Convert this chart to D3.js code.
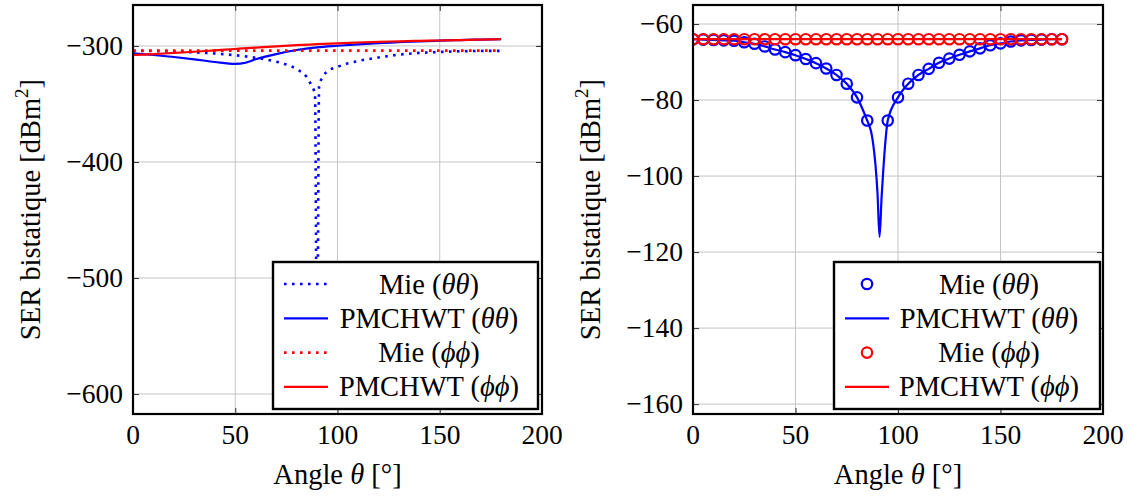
<!DOCTYPE html>
<html><head><meta charset="utf-8">
<script src="https://cdn.jsdelivr.net/npm/d3@7"></script>
<style>body{margin:0;background:#fff}svg{display:block}text{font-family:"Liberation Serif","DejaVu Serif",serif;fill:#000}</style>
</head><body><svg id="c" width="1147" height="498"></svg>
<script>
// ---- data ----
const xTicks = [0, 50, 100, 150, 200];
const leftYTicks = [-300, -400, -500, -600];
const rightYTicks = [-60, -80, -100, -120, -140, -160];

// Left panel
const leftMieThetaAngles = [0,10,20,30,40,50,60,70,75,80,85,87,89,90,91,93,95,100,110,120,130,140,150,160,170,180];
const leftMieThetaValues = [-304.2,-304.4,-304.8,-305.5,-306.5,-308,-310.2,-313.5,-316,-320,-327,-333,-342,-585,-335,-326,-322,-318,-313,-310,-307.5,-306,-305.2,-304.6,-304.3,-304.2];
const leftPmThetaAngles = [0,10,20,30,40,50,55,60,70,80,90,100,110,120,130,140,150,160,170,180];
const leftPmThetaValues = [-306.3,-307.8,-309.5,-311.5,-313.8,-315.5,-314.5,-311.5,-307,-303.5,-301.2,-299.8,-298.6,-297.6,-296.8,-296,-295.4,-294.9,-294.5,-294.2];
const leftMiePhiAngles = [0,30,60,90,120,150,180];
const leftMiePhiValues = [-304,-304,-304,-304,-304,-304,-304];
const leftPmPhiAngles = [0,10,20,30,40,50,60,70,80,90,100,110,120,130,140,150,160,170,180];
const leftPmPhiValues = [-307.8,-307,-306,-305,-303.8,-302.6,-301.4,-300.3,-299.3,-298.5,-297.7,-297,-296.4,-296,-295.6,-295.3,-294.9,-294.5,-294.2];

// Right panel
const rightMieThetaAngles = [0,5,10,15,20,25,30,35,40,45,50,55,60,65,70,75,80,85,95,100,105,110,115,120,125,130,135,140,145,150,155,160,165,170,175,180];
const rightMieThetaValues = [-64,-64.1,-64.2,-64.3,-64.4,-64.8,-65.2,-65.9,-66.7,-67.4,-68.2,-69.2,-70.3,-71.7,-73.4,-75.7,-79.3,-85.4,-85.4,-79.3,-75.7,-73.4,-71.8,-70.2,-69.1,-68.1,-67.2,-66.4,-65.6,-65.1,-64.6,-64.3,-64.2,-64.1,-64,-64];
const rightPmThetaAngles = [0,5,10,15,20,25,30,35,40,45,50,55,60,65,70,75,80,85,86,87,88,89,90,91,92,93,94,95,100,105,110,115,120,125,130,135,140,145,150,155,160,165,170,175,180];
const rightPmThetaValues = [-64,-64.1,-64.2,-64.3,-64.4,-64.8,-65.2,-65.9,-66.7,-67.4,-68.2,-69.2,-70.3,-71.7,-73.4,-75.7,-79.3,-85.4,-86.8,-88.6,-92,-97,-104.5,-116,-105.5,-97,-90,-85.4,-79.3,-75.7,-73.4,-71.8,-70.2,-69.1,-68.1,-67.2,-66.4,-65.6,-65.1,-64.6,-64.3,-64.2,-64.1,-64,-64];
const rightMiePhiAngles = d3.range(0, 181, 5);
const rightMiePhiValues = [-64,-64,-64,-64,-64,-64,-64,-64,-64,-64,-64,-64,-64,-64,-64,-64,-64,-64,-64,-64,-64,-64,-64,-64,-64,-64,-64,-64,-64,-64,-64,-64,-64,-64,-64,-64,-64];
const rightPmPhiAngles = [0, 45, 90, 135, 180];
const rightPmPhiValues = [-64,-64,-64,-64,-64];

const BLUE = "#0000ff", RED = "#ff0000";
const zip = (a, b) => a.map((x, i) => [x, b[i]]);
const DOT = "2.6,5.4";

const svg = d3.select("#c");

function panel(cfg) {
  const x = d3.scaleLinear().domain([0, 200]).range([cfg.x0, cfg.x1]);
  const y = d3.scaleLinear().domain(cfg.yDomain).range([cfg.y1, cfg.y0]);
  const g = svg.append("g");
  const defsId = "clip" + cfg.id;
  svg.append("clipPath").attr("id", defsId).append("rect")
    .attr("x", cfg.x0).attr("y", cfg.y0).attr("width", cfg.x1 - cfg.x0).attr("height", cfg.y1 - cfg.y0);
  // grid
  const grid = g.append("g").attr("stroke", "#c4c4c4").attr("stroke-width", 1);
  xTicks.forEach(t => grid.append("line").attr("x1", x(t)).attr("x2", x(t)).attr("y1", cfg.y0).attr("y2", cfg.y1));
  cfg.yTicks.forEach(t => grid.append("line").attr("y1", y(t)).attr("y2", y(t)).attr("x1", cfg.x0).attr("x2", cfg.x1));
  // inward ticks via d3 axes
  const clean = s => s.select(".domain").remove();
  g.append("g").attr("transform", `translate(0,${cfg.y1})`).call(d3.axisBottom(x).tickValues(xTicks).tickSize(-6).tickFormat("")).call(clean).selectAll("line").attr("stroke", "#333");
  g.append("g").attr("transform", `translate(0,${cfg.y0})`).call(d3.axisTop(x).tickValues(xTicks).tickSize(-6).tickFormat("")).call(clean).selectAll("line").attr("stroke", "#333");
  g.append("g").attr("transform", `translate(${cfg.x0},0)`).call(d3.axisLeft(y).tickValues(cfg.yTicks).tickSize(-6).tickFormat("")).call(clean).selectAll("line").attr("stroke", "#333");
  g.append("g").attr("transform", `translate(${cfg.x1},0)`).call(d3.axisRight(y).tickValues(cfg.yTicks).tickSize(-6).tickFormat("")).call(clean).selectAll("line").attr("stroke", "#333");
  // tick labels
  const fmt = v => (v < 0 ? "\u2212" + Math.abs(v) : "" + v);
  xTicks.forEach(t => g.append("text").attr("x", x(t)).attr("y", 444).attr("text-anchor", "middle").attr("font-size", 27.5).text(fmt(t)));
  cfg.yTicks.forEach(t => g.append("text").attr("x", cfg.x0 - 10).attr("y", y(t) + 9).attr("text-anchor", "end").attr("font-size", 27.5).text(fmt(t)));
  // data
  const dg = g.append("g").attr("clip-path", `url(#${defsId})`);
  const line = d3.line().x(d => x(d[0])).y(d => y(d[1])).curve(d3.curveMonotoneX);
  cfg.series.forEach(s => {
    if (s.type === "line") {
      dg.append("path").attr("d", line(s.data)).attr("fill", "none").attr("stroke", s.color)
        .attr("stroke-width", s.dash ? 2.6 : 2.2).attr("stroke-dasharray", s.dash || null);
    } else {
      dg.append("g").selectAll("circle").data(s.data).join("circle")
        .attr("cx", d => x(d[0])).attr("cy", d => y(d[1])).attr("r", 5.2)
        .attr("fill", "none").attr("stroke", s.color).attr("stroke-width", 2.2);
    }
  });
  // frame
  g.append("rect").attr("x", cfg.x0).attr("y", cfg.y0).attr("width", cfg.x1 - cfg.x0).attr("height", cfg.y1 - cfg.y0)
    .attr("fill", "none").attr("stroke", "#000").attr("stroke-width", 2.2);
  // axis labels
  const xl = g.append("text").attr("x", (cfg.x0 + cfg.x1) / 2).attr("y", 484).attr("text-anchor", "middle").attr("font-size", 28.5);
  xl.append("tspan").text("Angle ");
  xl.append("tspan").attr("font-style", "italic").text("θ");
  xl.append("tspan").text("  [°]");
  const yl = g.append("text").attr("transform", `translate(${cfg.ylx},${(cfg.y0 + cfg.y1) / 2}) rotate(-90)`).attr("text-anchor", "middle").attr("font-size", 28.5);
  yl.append("tspan").text("SER bistatique  [dBm");
  yl.append("tspan").attr("font-size", 19).attr("dy", -12).text("2");
  yl.append("tspan").attr("dy", 12).text("]");
  // legend
  const L = cfg.legend;
  const lg = g.append("g");
  lg.append("rect").attr("x", L.x).attr("y", L.y).attr("width", L.w).attr("height", L.h)
    .attr("fill", "#fff").attr("stroke", "#000").attr("stroke-width", 2.4);
  cfg.series.forEach((s, i) => {
    const cy = L.y + 22 + i * 34.3;
    if (s.type === "line") {
      lg.append("path").attr("d", d3.line()([[L.x + 11, cy], [L.x + 55, cy]])).attr("stroke", s.color)
        .attr("stroke-width", s.dash ? 2.6 : 2.2).attr("stroke-dasharray", s.dash || null);
    } else {
      lg.append("circle").attr("cx", L.x + 33).attr("cy", cy).attr("r", 5.2).attr("fill", "none")
        .attr("stroke", s.color).attr("stroke-width", 2.2);
    }
    const t = lg.append("text").attr("x", L.x + L.tc).attr("y", cy + 9.5).attr("text-anchor", "middle").attr("font-size", 28.5);
    t.append("tspan").text(s.name + " (");
    t.append("tspan").attr("font-style", "italic").text(s.sym + s.sym);
    t.append("tspan").text(")");
  });
}

panel({
  id: "L", x0: 133, x1: 542, y0: 5, y1: 414, yDomain: [-617.2, -264.7], yTicks: leftYTicks, ylx: 40,
  legend: { x: 273, y: 262, w: 265, h: 147, tc: 156 },
  series: [
    { type: "line", name: "Mie", sym: "θ", color: BLUE, dash: DOT, data: zip(leftMieThetaAngles, leftMieThetaValues) },
    { type: "line", name: "PMCHWT", sym: "θ", color: BLUE, data: zip(leftPmThetaAngles, leftPmThetaValues) },
    { type: "line", name: "Mie", sym: "ϕ", color: RED, dash: DOT, data: zip(leftMiePhiAngles, leftMiePhiValues) },
    { type: "line", name: "PMCHWT", sym: "ϕ", color: RED, data: zip(leftPmPhiAngles, leftPmPhiValues) },
  ]
});
panel({
  id: "R", x0: 693, x1: 1103, y0: 5, y1: 414, yDomain: [-162.6, -55], yTicks: rightYTicks, ylx: 600,
  legend: { x: 834, y: 262, w: 266, h: 147, tc: 155 },
  series: [
    { type: "marks", name: "Mie", sym: "θ", color: BLUE, data: zip(rightMieThetaAngles, rightMieThetaValues) },
    { type: "line", name: "PMCHWT", sym: "θ", color: BLUE, data: zip(rightPmThetaAngles, rightPmThetaValues) },
    { type: "marks", name: "Mie", sym: "ϕ", color: RED, data: zip(rightMiePhiAngles, rightMiePhiValues) },
    { type: "line", name: "PMCHWT", sym: "ϕ", color: RED, data: zip(rightPmPhiAngles, rightPmPhiValues) },
  ]
});
</script></body></html>
